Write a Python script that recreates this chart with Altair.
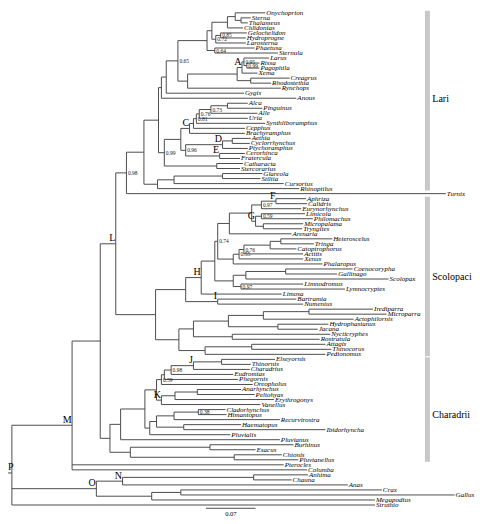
import altair as alt
import pandas as pd

# ---------------- data ----------------
leaves = ["Onychoprion", "Sterna", "Thalasseus", "Chlidonias", "Gelochelidon", "Hydroprogne",
          "Larosterna", "Phaetusa", "Sternula", "Larus", "Rissa", "Pagophila", "Xema", "Creagrus",
          "Rhodostethia", "Rynchops", "Gygis", "Anous", "Alca", "Pinguinus", "Alle", "Uria",
          "Synthliboramphus", "Cepphus", "Brachyramphus", "Aethia", "Cyclorrhynchus",
          "Ptychoramphus", "Cerorhinca", "Fratercula", "Catharacta", "Stercorarius", "Glareola",
          "Stiltia", "Cursorius", "Rhinoptilus", "Turnix",
          "Aphriza", "Calidris", "Eurynorhynchus", "Limicola", "Philomachus", "Micropalama",
          "Tryngites", "Arenaria", "Heteroscelus", "Tringa", "Catoptrophorus", "Actitis", "Xenus",
          "Phalaropus", "Coenocorypha", "Gallinago", "Scolopax", "Limnodromus", "Lymnocryptes",
          "Limosa", "Bartramia", "Numenius", "Irediparra", "Microparra", "Actophilornis",
          "Hydrophasianus", "Jacana", "Nycticryphes", "Rostratula", "Attagis", "Thinocorus",
          "Pedionomus",
          "Elseyornis", "Thinornis", "Charadrius", "Eudromias", "Phegornis", "Oreopholus",
          "Anarhynchus", "Peltohyas", "Erythrogonys", "Vanellus", "Cladorhynchus", "Himantopus",
          "Recurvirostra", "Haematopus", "Ibidorhyncha", "Pluvialis", "Pluvianus", "Burhinus",
          "Esacus", "Chionis", "Pluvianellus", "Pterocles", "Columba", "Anhima", "Chauna", "Anas",
          "Crax", "Gallus", "Megapodius", "Struthio"]

# tip depth (cumulative branch length, in figure units; 51 units = 0.07)
tip_depth = [267, 252, 249, 244, 248, 247, 247, 256, 280, 271, 261, 261, 259, 292, 273, 283, 245,
             299, 249, 264, 259, 249, 267, 246, 246, 252, 251, 249, 246, 241, 244, 241, 264, 262,
             286, 302, 453,
             309, 310, 304, 308, 316, 306, 305, 294, 336, 317, 299, 306, 306, 326, 357, 341, 394,
             306, 349, 284, 299, 306, 378, 392, 358, 332, 321, 334, 323, 329, 335, 329,
             277, 252, 251, 234, 239, 254, 242, 256, 276, 262, 226, 227, 282, 242, 329, 231, 282,
             296, 257, 284, 301, 286, 310, 311, 294, 352, 387, 462, 380, 380]

# internal nodes: (id, depth, children)
nodes = [
    ("P", 6, ["M", "O", "Struthio"]),
    ("M", 68, ["n97", "Pterocles", "Columba"]),
    ("n97", 97, ["L", "Char"]),
    ("L", 113, ["n98", "Scol"]),
    ("n98", 124, ["n142", "Turnix"]),
    ("n142", 142, ["Z", "Glar"]),
    ("Z", 157, ["Y", "n99"]),
    ("Y", 160, ["X", "Anous"]),
    ("X", 165, ["n65", "Gygis"]),
    ("n65", 177, ["Terns", "GR"]),
    ("Terns", 207, ["Ta", "PS"]),
    ("Ta", 212, ["Tb", "Tc"]),
    ("Tb", 228, ["OST", "Chlidonias"]),
    ("OST", 236, ["Onychoprion", "ST"]),
    ("ST", 242, ["Sterna", "Thalasseus"]),
    ("Tc", 216, ["GH", "Larosterna"]),
    ("GH", 221, ["Gelochelidon", "Hydroprogne"]),
    ("PS", 215, ["Phaetusa", "Sternula"]),
    ("GR", 187, ["Gulls", "Rynchops"]),
    ("Gulls", 238, ["A", "CR"]),
    ("A", 243, ["LRP", "Xema"]),
    ("LRP", 245, ["Larus", "RP"]),
    ("RP", 248, ["Rissa", "Pagophila"]),
    ("CR", 252, ["Creagrus", "Rhodostethia"]),
    ("n99", 163, ["Alc", "Sk"]),
    ("Alc", 180, ["C", "DE"]),
    ("C", 189, ["Cp", "Brachyramphus"]),
    ("Cp", 193, ["S81", "Cepphus"]),
    ("S81", 196, ["U76", "Synthliboramphus"]),
    ("U76", 199, ["A73", "Uria"]),
    ("A73", 211, ["AP", "Alle"]),
    ("AP", 228, ["Alca", "Pinguinus"]),
    ("DE", 185, ["D", "E"]),
    ("D", 223, ["AC", "Ptychoramphus"]),
    ("AC", 233, ["Aethia", "Cyclorrhynchus"]),
    ("E", 220, ["Cerorhinca", "Fratercula"]),
    ("Sk", 217, ["Catharacta", "Stercorarius"]),
    ("Glar", 156, ["G1", "Rhinoptilus"]),
    ("G1", 173, ["G2", "Cursorius"]),
    ("G2", 223, ["Glareola", "Stiltia"]),
    ("Scol", 154, ["n185", "Jac"]),
    ("n185", 185, ["H", "I"]),
    ("H", 201, ["S1", "Limosa"]),
    ("S1", 215, ["n74", "Scp"]),
    ("n74", 218, ["CA", "TP"]),
    ("CA", 230, ["Cal", "Arenaria"]),
    ("Cal", 253, ["n97b", "G"]),
    ("n97b", 263, ["F", "Eurynorhynchus"]),
    ("F", 278, ["Aphriza", "Calidris"]),
    ("G", 257, ["n59", "MT"]),
    ("n59", 263, ["Limicola", "Philomachus"]),
    ("MT", 265, ["Micropalama", "Tryngites"]),
    ("TP", 234, ["S55", "Phalaropus"]),
    ("S55", 240, ["S76", "Xenus"]),
    ("S76", 245, ["HTC", "Actitis"]),
    ("HTC", 272, ["HT", "Catoptrophorus"]),
    ("HT", 283, ["Heteroscelus", "Tringa"]),
    ("Scp", 234, ["CGS", "LL"]),
    ("CGS", 247, ["CG", "Scolopax"]),
    ("CG", 288, ["Coenocorypha", "Gallinago"]),
    ("LL", 242, ["Limnodromus", "Lymnocryptes"]),
    ("I", 218, ["Bartramia", "Numenius"]),
    ("Jac", 178, ["JR", "ATP"]),
    ("JR", 193, ["Jn", "Ro"]),
    ("Jn", 229, ["IMA", "HJ"]),
    ("IMA", 265, ["IM", "Actophilornis"]),
    ("IM", 312, ["Irediparra", "Microparra"]),
    ("HJ", 280, ["Hydrophasianus", "Jacana"]),
    ("Ro", 233, ["Nycticryphes", "Rostratula"]),
    ("ATP", 205, ["AT", "Pedionomus"]),
    ("AT", 253, ["Attagis", "Thinocorus"]),
    ("Char", 107, ["n118", "B"]),
    ("n118", 118, ["n143", "Pluvianus"]),
    ("n143", 143, ["n155", "n148"]),
    ("n155", 155, ["S59", "K"]),
    ("S59", 160, ["n163", "Oreopholus"]),
    ("n163", 163, ["S98", "Phegornis"]),
    ("S98", 170, ["J", "Eudromias"]),
    ("J", 193, ["ET", "Charadrius"]),
    ("ET", 222, ["Elseyornis", "Thinornis"]),
    ("K", 160, ["APE", "Vanellus"]),
    ("APE", 174, ["AnP", "Erythrogonys"]),
    ("AnP", 197, ["Anarhynchus", "Peltohyas"]),
    ("n148", 148, ["RHI", "Pluvialis"]),
    ("RHI", 155, ["CHR", "HI"]),
    ("CHR", 173, ["CH", "Recurvirostra"]),
    ("CH", 198, ["Cladorhynchus", "Himantopus"]),
    ("HI", 183, ["Haematopus", "Ibidorhyncha"]),
    ("B", 128, ["Bu", "Ch"]),
    ("Bu", 210, ["Burhinus", "Esacus"]),
    ("Ch", 235, ["Chionis", "Pluvianellus"]),
    ("O", 93, ["N", "Gal"]),
    ("N", 120, ["AC2", "Anas"]),
    ("AC2", 255, ["Anhima", "Chauna"]),
    ("Gal", 150, ["CGa", "Megapodius"]),
    ("CGa", 180, ["Crax", "Gallus"]),
]

support = {"n98": "0.98", "n65": "0.65", "Tc": "0.72", "GH": "0.85", "PS": "0.64",
           "LRP": "0.95", "RP": "0.99", "n99": "0.99", "S81": "0.81", "U76": "0.76",
           "A73": "0.73", "DE": "0.96", "n74": "0.74", "n97b": "0.97", "n59": "0.59",
           "S55": "0.55", "S76": "0.76", "LL": "0.97", "S59": "0.59", "S98": "0.98",
           "CH": "0.38"}

letters = {"A": "A", "C": "C", "D": "D", "E": "E", "F": "F", "G": "G", "H": "H", "I": "I",
           "J": "J", "K": "K", "L": "L", "M": "M", "N": "N", "O": "O"}
root_letter = "P"

groups = ["Lari", "Scolopaci", "Charadrii"]
group_first = ["Onychoprion", "Aphriza", "Elseyornis"]
group_last = ["Rhinoptilus", "Pedionomus", "Pluvianellus"]
group_label_leaf = [17.2, 52.5, 80.1]

scale_bar_start = 206
scale_bar_len = 51          # figure units for 0.07
scale_bar_label = "0.07"

# ---------------- layout constants ----------------
ROOT_STEM = 2
BAR_X = 434
LABEL_X = 439
W, H = 467, 508
LINE = "#4d4d4d"
SERIF = "Liberation Serif"

# ---------------- tree geometry ----------------
leaf_index = {n: i for i, n in enumerate(leaves)}
depth = dict(zip(leaves, tip_depth))
children = {}
for nid, d, ch in nodes:
    depth[nid] = d
    children[nid] = ch
parent = {c: nid for nid, _, ch in nodes for c in ch}
ypos = {}


def gety(n):
    if n in leaf_index:
        return float(leaf_index[n])
    if n not in ypos:
        ys = [gety(c) for c in children[n]]
        ypos[n] = sum(ys) / len(ys)
    return ypos[n]


segs = []
for n in depth:
    y = gety(n)
    x0 = depth[parent[n]] if n in parent else ROOT_STEM
    segs.append({"x": x0, "x2": depth[n], "y": y, "y2": y})
for nid, _, ch in nodes:
    ys = [gety(c) for c in ch]
    segs.append({"x": depth[nid], "x2": depth[nid], "y": min(ys), "y2": max(ys)})
seg_df = pd.DataFrame(segs)

root_id = nodes[0][0]
leaf_df = pd.DataFrame({"x": tip_depth, "y": list(range(len(leaves))), "label": leaves})
sup_df = pd.DataFrame([{"x": depth[k], "y": gety(k), "label": v} for k, v in support.items()])
let_df = pd.DataFrame([{"x": depth[k], "y": gety(k), "label": v} for k, v in letters.items()])
root_df = pd.DataFrame([{"x": ROOT_STEM, "y": gety(root_id), "label": root_letter}])
grp_df = pd.DataFrame({
    "x": [BAR_X] * 3,
    "y": [leaf_index[a] - 0.4 for a in group_first],
    "y2": [leaf_index[b] + 0.4 for b in group_last],
})
grp_lab = pd.DataFrame({"x": [LABEL_X] * 3, "y": group_label_leaf, "label": groups})
bar_df = pd.DataFrame({"x": [scale_bar_start], "x2": [scale_bar_start + scale_bar_len],
                       "y": [98.65], "ty": [99.75], "tx": [scale_bar_start + scale_bar_len / 2],
                       "label": [scale_bar_label]})

xs = alt.Scale(domain=[2, 483], nice=False, zero=False)
ys = alt.Scale(domain=[-0.965, 100.19], nice=False, zero=False, reverse=True)
X = lambda f: alt.X(f, type="quantitative", scale=xs, axis=None)
Y = lambda f: alt.Y(f, type="quantitative", scale=ys, axis=None)

branches = alt.Chart(seg_df).mark_rule(color=LINE, strokeWidth=1).encode(
    x=X("x"), x2="x2", y=Y("y"), y2="y2")
tips = alt.Chart(leaf_df).mark_text(align="left", baseline="middle", dx=1, font=SERIF,
                                    fontStyle="italic", fontSize=7, color="#000").encode(
    x=X("x"), y=Y("y"), text="label")
sups = alt.Chart(sup_df).mark_text(align="left", baseline="middle", dx=1.5, font=SERIF,
                                   fontSize=5.5, color="#222").encode(
    x=X("x"), y=Y("y"), text="label")
lets = alt.Chart(let_df).mark_text(align="right", baseline="bottom", dx=-0.5, dy=-0.5,
                                   font=SERIF, fontSize=10, color="#000").encode(
    x=X("x"), y=Y("y"), text="label")
rlet = alt.Chart(root_df).mark_text(align="left", baseline="bottom", dx=0, dy=-0.5,
                                    font=SERIF, fontSize=10, color="#000").encode(
    x=X("x"), y=Y("y"), text="label")
gbars = alt.Chart(grp_df).mark_rule(color="#c8c8c8", strokeWidth=5).encode(
    x=X("x"), y=Y("y"), y2="y2")
glabs = alt.Chart(grp_lab).mark_text(align="left", baseline="middle", font=SERIF,
                                     fontSize=10, color="#000").encode(
    x=X("x"), y=Y("y"), text="label")
sbar = alt.Chart(bar_df).mark_rule(color=LINE, strokeWidth=1).encode(
    x=X("x"), x2="x2", y=Y("y"))
slab = alt.Chart(bar_df).mark_text(baseline="middle", font=SERIF, fontSize=6.5,
                                   color="#000").encode(x=X("tx"), y=Y("ty"), text="label")

chart = alt.layer(gbars, branches, tips, sups, lets, rlet, glabs, sbar, slab).properties(
    width=W, height=H, padding=0, autosize=alt.AutoSizeParams(type="none")
).configure_view(stroke=None)

chart.save("out.html", embed_options={"renderer": "svg", "actions": False})
